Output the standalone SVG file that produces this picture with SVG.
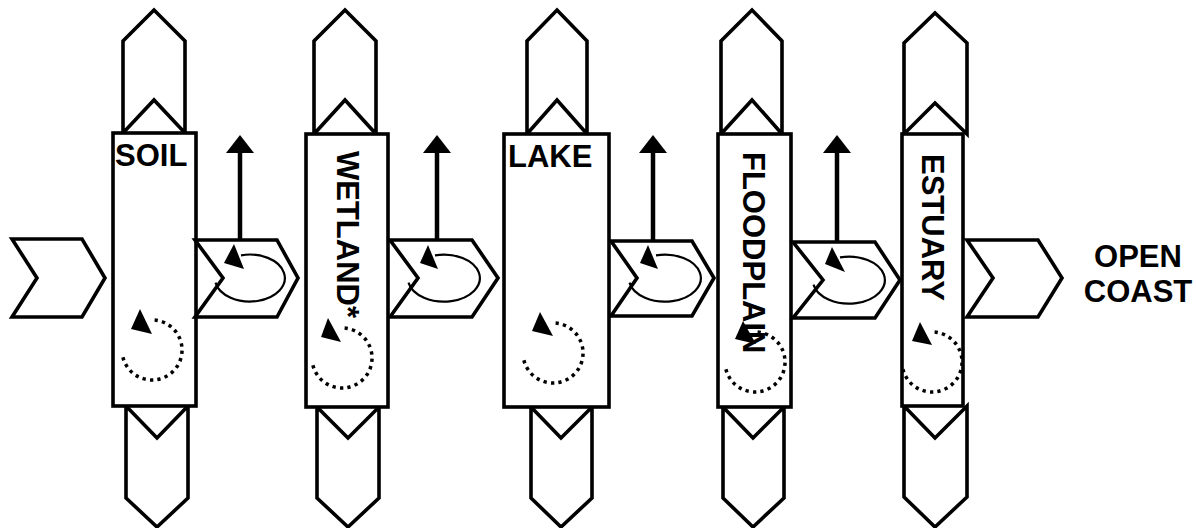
<svg xmlns="http://www.w3.org/2000/svg" width="1196" height="528" viewBox="0 0 1196 528">
<style>
.sh{fill:#fff;stroke:#000;stroke-width:3.6;stroke-linejoin:miter}
.loop{fill:none;stroke:#000;stroke-width:2.2}
.dots{fill:none;stroke:#000;stroke-width:3.5;stroke-dasharray:3.3 4.2}
.up{stroke:#000;stroke-width:4.5}
.lbl{font-family:"Liberation Sans",Arial,sans-serif;font-weight:bold;font-size:31px;fill:#000}
</style>
<rect width="1196" height="528" fill="#fff"/>

<g id="input">
<polygon class="sh" points="12,239 82,239 105,278 82,317 12,317 37,278"/>
</g>

<g id="soil">
<polygon class="sh" points="123,133 123,41 154,10 185,41 185,133 154,100"/>
<polygon class="sh" points="126,406 157,438 188,406 188,498 157,527 126,498"/>
<rect class="sh" x="113" y="133" width="83" height="273"/>
<text class="lbl" x="115" y="166">SOIL</text>
<path class="dots" d="M154.6,320.1 A30,30 0 1 1 122.8,356.7"/>
<polygon points="140,309 131,329 152,334"/>
</g>

<g id="wetland">
<polygon class="sh" points="314,134 314,41 345,10 376,41 376,134 345,100"/>
<polygon class="sh" points="317,407 348,438 379,407 379,498 348,527 317,498"/>
<rect class="sh" x="306" y="134" width="82" height="273"/>
<text class="lbl" transform="translate(337,151) rotate(90)">WETLAND*</text>
<path class="dots" d="M344.6,328.1 A30,30 0 1 1 312.8,364.7"/>
<polygon points="328,318 321,337 341,342"/>
</g>

<g id="lake">
<polygon class="sh" points="527,134 527,41 557,10 587,41 587,134 557,100"/>
<polygon class="sh" points="531,407 561,438 592,407 592,498 561,527 531,498"/>
<rect class="sh" x="504" y="134" width="105" height="273"/>
<text class="lbl" x="508" y="167">LAKE</text>
<path class="dots" d="M555.6,323.1 A30,30 0 1 1 523.8,359.7"/>
<polygon points="540,312 532,331 553,336"/>
</g>

<g id="floodplain">
<polygon class="sh" points="721,134 721,41 752,10 782,41 782,134 752,100"/>
<polygon class="sh" points="723,407 753,438 784,407 784,498 753,527 723,498"/>
<rect class="sh" x="718" y="134" width="73" height="273"/>
<text class="lbl" transform="translate(743,152) rotate(90)">FLOODPLAIN</text>
<path class="dots" d="M757.6,332.1 A30,30 0 1 1 725.8,368.7"/>
<polygon points="743,321 735,339 756,344"/>
</g>

<g id="estuary">
<polygon class="sh" points="904,134 904,43 935,13 967,43 967,134 935,103"/>
<polygon class="sh" points="904,406 935,438 967,406 967,497 935,527 904,497"/>
<rect class="sh" x="902" y="134" width="61" height="272"/>
<text class="lbl" transform="translate(922,154) rotate(90)">ESTUARY</text>
<path class="dots" d="M934.6,332.1 A30,30 0 1 1 902.8,368.7"/>
<polygon points="920,322 912,341 932,345"/>
</g>

<g id="connectors">
<g id="soil-wetland">
<polygon class="sh" points="195,240 277,240 298,278 277,317 195,317 223,278"/>
<path class="loop" d="M241,255.3 A35,23.5 0 1 1 215.5,282.6"/>
<polygon points="234,244 224,263 244,269"/>
<line class="up" x1="240" y1="240" x2="240" y2="150"/>
<polygon points="226,153 240,135 254,153"/>
</g>
<g id="wetland-lake">
<polygon class="sh" points="390,240 472,240 498,278 472,317 390,317 418,278"/>
<path class="loop" d="M435,255.3 A36,23.5 0 1 1 408.5,282.6"/>
<polygon points="428,245 420,263 438,269"/>
<line class="up" x1="437" y1="240" x2="437" y2="150"/>
<polygon points="423,153 437,135 451,153"/>
</g>
<g id="lake-floodplain">
<polygon class="sh" points="611,241 692,241 714,278 692,316 611,316 637,278"/>
<path class="loop" d="M656,255.3 A36,23.5 0 1 1 629.5,282.6"/>
<polygon points="648,245 640,263 658,269"/>
<line class="up" x1="653" y1="241" x2="653" y2="150"/>
<polygon points="639,153 653,135 667,153"/>
</g>
<g id="floodplain-estuary">
<polygon class="sh" points="793,242 875,242 900,280 875,318 793,318 823,280"/>
<path class="loop" d="M840,257.3 A36,23.5 0 1 1 813.5,284.6"/>
<polygon points="832,247 825,264 845,272"/>
<line class="up" x1="837" y1="242" x2="837" y2="150"/>
<polygon points="823,153 837,135 851,153"/>
</g>
</g>

<g id="output">
<polygon class="sh" points="967,240 1038,240 1062,278 1038,317 967,317 993,278"/>
</g>

<g id="open-coast">
<text class="lbl" x="1138" y="267" text-anchor="middle">OPEN</text>
<text class="lbl" x="1138" y="302" text-anchor="middle">COAST</text>
</g>
</svg>
